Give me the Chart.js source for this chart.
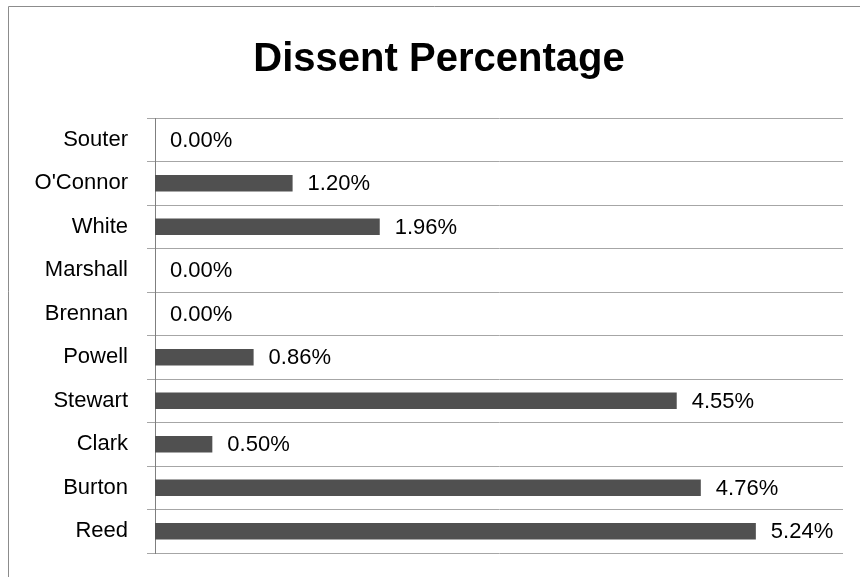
<!DOCTYPE html>
<html>
<head>
<meta charset="utf-8">
<script src="https://cdn.jsdelivr.net/npm/chart.js@4/dist/chart.umd.min.js"></script>
<style>
  html, body { margin: 0; padding: 0; background: #fff; }
  #wrap { position: relative; width: 860px; height: 577px; }
</style>
</head>
<body>
<div id="wrap"><canvas id="chart" width="860" height="577"></canvas></div>
<script>
const justices = ['Souter', "O'Connor", 'White', 'Marshall', 'Brennan', 'Powell', 'Stewart', 'Clark', 'Burton', 'Reed'];
const dissentPct = [0.00, 1.20, 1.96, 0.00, 0.00, 0.86, 4.55, 0.50, 4.76, 5.24];
const xMax = 6;

const FONT = "'Liberation Sans', Arial, sans-serif";

// value labels to the right of each bar
const barLabels = {
  id: 'barLabels',
  afterDatasetsDraw(chart) {
    const ctx = chart.ctx;
    const meta = chart.getDatasetMeta(0);
    ctx.save();
    ctx.font = '22px ' + FONT;
    ctx.fillStyle = '#000';
    ctx.textAlign = 'left';
    ctx.textBaseline = 'middle';
    meta.data.forEach((bar, i) => {
      ctx.fillText(dissentPct[i].toFixed(2) + '%', bar.x + 15, bar.y + 1);
    });
    ctx.restore();
  }
};

// the chart frame, cut off at right and bottom like the source
const frame = {
  id: 'frame',
  beforeDraw(chart) {
    const ctx = chart.ctx;
    ctx.save();
    ctx.strokeStyle = '#8c8c8c';
    ctx.lineWidth = 1;
    ctx.beginPath();
    ctx.moveTo(8.5, chart.height);
    ctx.lineTo(8.5, 6.5);
    ctx.lineTo(chart.width, 6.5);
    ctx.stroke();
    ctx.restore();
  }
};

const ctx = document.getElementById('chart').getContext('2d');
const myChart = new Chart(ctx, {
  type: 'bar',
  data: {
    labels: justices,
    datasets: [{
      data: dissentPct,
      backgroundColor: '#505050',
      borderWidth: 0,
      barPercentage: 0.385,
      categoryPercentage: 1
    }]
  },
  options: {
    indexAxis: 'y',
    responsive: false,
    animation: false,
    layout: {
      padding: { left: 18, right: 0, top: 0, bottom: 24 }
    },
    plugins: {
      legend: { display: false },
      tooltip: { enabled: false },
      title: {
        display: true,
        text: 'Dissent Percentage',
        color: '#000',
        font: { family: FONT, size: 40, weight: 'bold', lineHeight: 1.2 },
        padding: { top: 36, bottom: 34 }
      }
    },
    scales: {
      x: {
        display: false,
        min: 0,
        max: xMax
      },
      y: {
        grid: {
          offset: true,
          color: '#a6a6a6',
          tickLength: 8
        },
        border: { color: '#7f7f7f' },
        ticks: {
          color: '#000',
          padding: 19,
          font: { family: FONT, size: 22 }
        },
        afterFit(scale) {
          scale.width = 137;
          scale.paddingTop = 0;
          scale.paddingBottom = 0;
        }
      },
      // empty spacer so the plot stops at the same right edge as the source
      spacer: {
        axis: 'y',
        type: 'linear',
        position: 'right',
        grid: { display: false },
        border: { display: false },
        ticks: { display: false },
        afterFit(scale) { scale.width = 17; }
      }
    }
  },
  plugins: [barLabels, frame]
});
</script>
</body>
</html>
